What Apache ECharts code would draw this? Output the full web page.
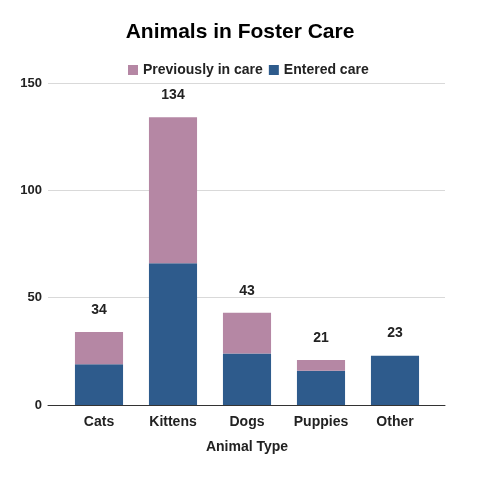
<!DOCTYPE html>
<html style="height: 100%">
<head>
    <meta charset="utf-8">
</head>
<body style="height: 100%; margin: 0">
    <div id="container" style="width: 480px; height: 480px"></div>
    <script src="https://cdn.jsdelivr.net/npm/echarts@6/dist/echarts.min.js"></script>
    <script type="text/javascript">
        // data
        var categories = ['Cats', 'Kittens', 'Dogs', 'Puppies', 'Other'];
        var enteredCare = [19, 66, 24, 16, 23];
        var previouslyInCare = [15, 68, 19, 5, 0];
        var totals = [34, 134, 43, 21, 23];
        var yTicks = { min: 0, max: 150, interval: 50 };

        var font = '"Liberation Sans", Arial, sans-serif';
        var myChart = echarts.init(document.getElementById('container'));

        var option = {
            title: {
                text: 'Animals in Foster Care',
                left: 'center',
                top: 17,
                textStyle: { fontFamily: font, fontSize: 21, fontWeight: 'bold', color: '#000' }
            },
            legend: {
                top: 58,
                left: 123,
                icon: 'rect',
                itemWidth: 10,
                itemHeight: 10,
                itemGap: 6,
                data: ['Previously in care', 'Entered care'],
                textStyle: { fontFamily: font, fontSize: 14, fontWeight: 'bold', color: '#222' }
            },
            // grid 0 holds the bars, grid 1 only draws the wider gridlines and baseline
            grid: [
                { left: 62, right: 48, top: 83, bottom: 75 },
                { left: 48, right: 35, top: 83, bottom: 75 }
            ],
            xAxis: [{
                type: 'category',
                gridIndex: 0,
                data: categories,
                name: 'Animal Type',
                nameLocation: 'middle',
                nameGap: 35,
                nameTextStyle: { fontFamily: font, fontSize: 14, fontWeight: 'bold', color: '#222' },
                axisTick: { show: false },
                axisLine: { show: false },
                axisLabel: { fontFamily: font, fontSize: 14, fontWeight: 'bold', color: '#222', margin: 10 }
            }, {
                type: 'value',
                gridIndex: 1,
                min: 0,
                max: 1,
                axisTick: { show: false },
                axisLabel: { show: false },
                splitLine: { show: false },
                axisLine: { lineStyle: { color: '#333', width: 1 } }
            }],
            yAxis: [{
                type: 'value',
                gridIndex: 0,
                min: yTicks.min,
                max: yTicks.max,
                interval: yTicks.interval,
                axisLabel: { fontFamily: font, fontSize: 13, fontWeight: 'bold', color: '#222', margin: 20 },
                splitLine: { show: false }
            }, {
                type: 'value',
                gridIndex: 1,
                min: yTicks.min,
                max: yTicks.max,
                interval: yTicks.interval,
                axisLabel: { show: false },
                axisLine: { show: false },
                axisTick: { show: false },
                splitLine: { lineStyle: { color: '#d9d9d9' } }
            }],
            series: [{
                name: 'Entered care',
                type: 'bar',
                stack: 'total',
                barWidth: '65%',
                itemStyle: { color: '#2e5b8c' },
                data: enteredCare
            }, {
                name: 'Previously in care',
                type: 'bar',
                stack: 'total',
                itemStyle: { color: '#b587a4' },
                label: {
                    show: true,
                    position: 'top',
                    distance: 15,
                    fontFamily: font,
                    fontSize: 14,
                    fontWeight: 'bold',
                    color: '#222',
                    formatter: function (p) { return totals[p.dataIndex]; }
                },
                data: previouslyInCare
            }]
        };

        myChart.setOption(option);
    </script>
</body>
</html>
